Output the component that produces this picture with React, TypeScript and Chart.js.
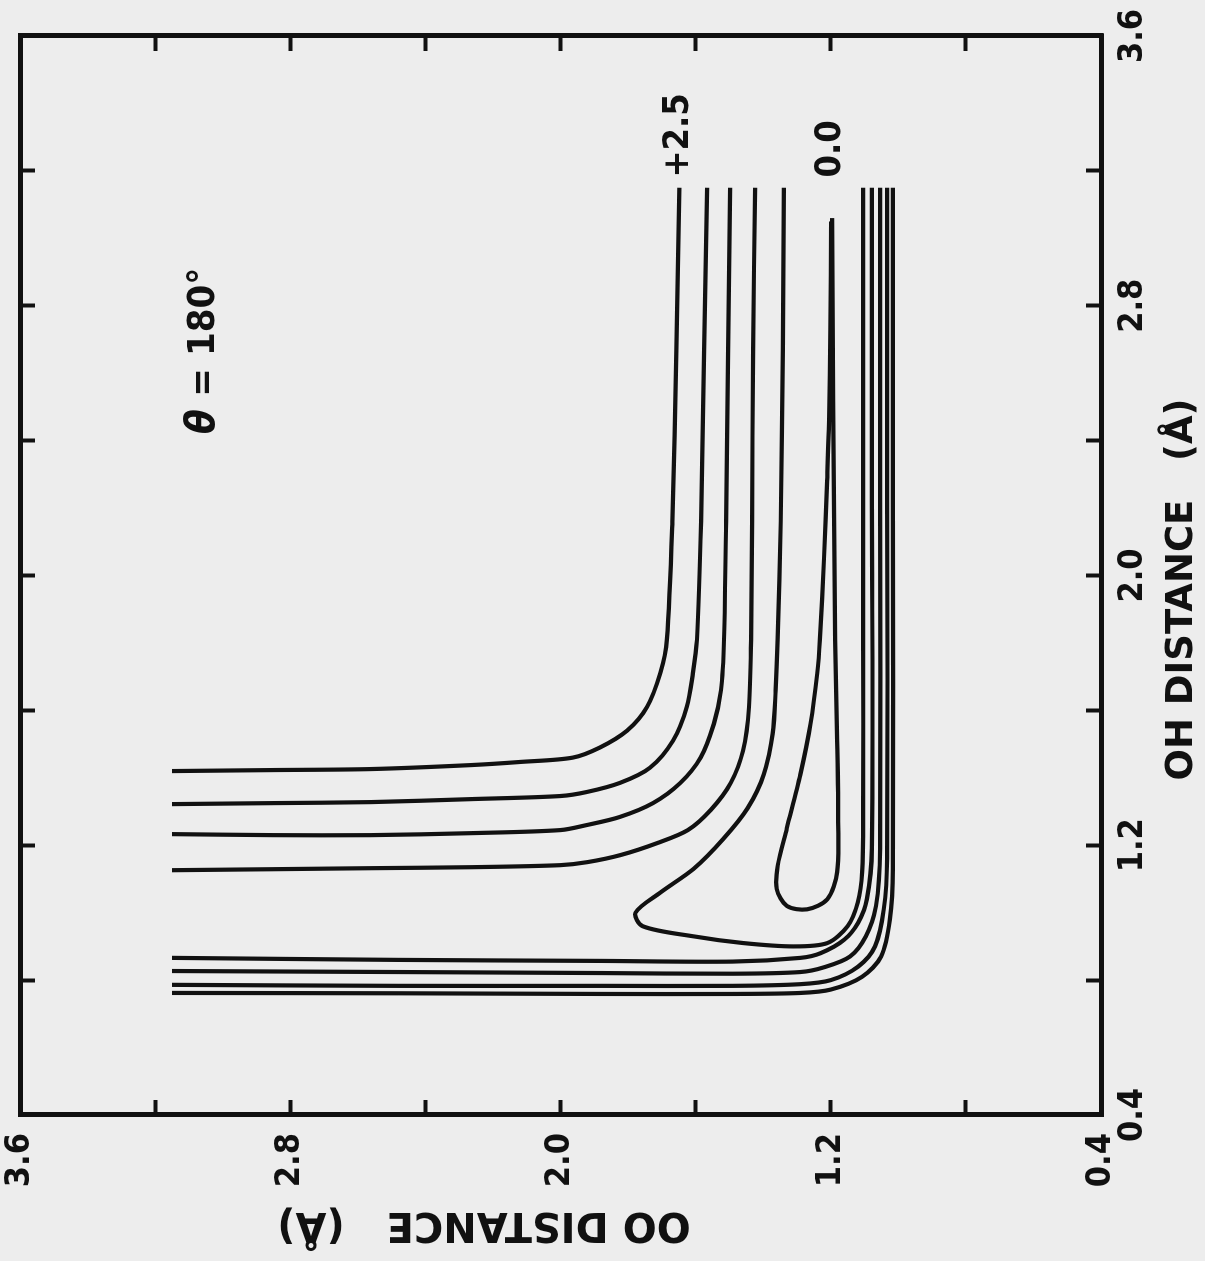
import React, { useEffect, useRef } from 'react';
import { Chart, registerables } from 'chart.js';

Chart.register(...registerables);

// Axis (Angstrom)
const axisMin = 0.4;
const axisMax = 3.6;
const tickValues = [0.4, 0.8, 1.2, 1.6, 2.0, 2.4, 2.8, 3.2, 3.6];
const labelledTicks = [0.4, 1.2, 2.0, 2.8, 3.6];
const xTitle = 'OH DISTANCE   (Å)';
const yTitle = 'OO DISTANCE   (Å)';
const angleLabel = '= 180°';
const angleSymbol = 'θ';
const levelLabels = ['+2.5', '0.0'];

// Contours: [OH distance, OO distance]
const contourA: [number, number][] = [
  [3.15, 1.648], [2.67, 1.657], [2.16, 1.669], [1.81, 1.685], [1.71, 1.705], [1.61, 1.744],
  [1.54, 1.803], [1.49, 1.883], [1.46, 1.963], [1.447, 2.12], [1.438, 2.26], [1.426, 2.56],
  [1.423, 2.85], [1.42, 3.15],
];
const contourB: [number, number][] = [
  [3.15, 1.566], [2.67, 1.575], [2.16, 1.584], [1.81, 1.596], [1.71, 1.608], [1.61, 1.626],
  [1.51, 1.667], [1.43, 1.735], [1.385, 1.824], [1.358, 1.922], [1.346, 2.00], [1.337, 2.26],
  [1.328, 2.56], [1.325, 2.85], [1.322, 3.15],
];
const contourC: [number, number][] = [
  [3.15, 1.498], [2.67, 1.504], [2.16, 1.51], [1.81, 1.516], [1.66, 1.525], [1.56, 1.546],
  [1.46, 1.585], [1.385, 1.645], [1.325, 1.726], [1.284, 1.824], [1.26, 1.922], [1.245, 2.00],
  [1.236, 2.26], [1.23, 2.56], [1.23, 2.85], [1.233, 3.15],
];
const contourD: [number, number][] = [
  [3.15, 1.424], [2.67, 1.43], [2.16, 1.433], [1.81, 1.436], [1.61, 1.442], [1.48, 1.46],
  [1.385, 1.496], [1.305, 1.555], [1.245, 1.623], [1.207, 1.712], [1.171, 1.822], [1.15, 1.92],
  [1.141, 2.00], [1.135, 2.26], [1.132, 2.56], [1.129, 2.85], [1.126, 3.15],
];
const contourE: [number, number][] = [
  [3.15, 1.339], [2.67, 1.342], [2.16, 1.348], [1.81, 1.357], [1.66, 1.363], [1.53, 1.372],
  [1.41, 1.398], [1.31, 1.446], [1.22, 1.517], [1.13, 1.606], [1.06, 1.704], [1.00, 1.778],
  [0.96, 1.757], [0.93, 1.607], [0.91, 1.46], [0.90, 1.31], [0.91, 1.21], [0.96, 1.15],
  [1.03, 1.12], [1.12, 1.107], [1.31, 1.104], [1.81, 1.104], [2.52, 1.104], [3.15, 1.104],
];
const contourZero: [number, number][] = [
  [3.06, 1.196], [2.52, 1.193], [2.16, 1.19], [1.81, 1.187], [1.51, 1.181], [1.27, 1.178],
  [1.12, 1.181], [1.04, 1.21], [1.01, 1.27], [1.02, 1.33], [1.07, 1.36], [1.14, 1.357],
  [1.25, 1.33], [1.41, 1.29], [1.56, 1.26], [1.71, 1.24], [1.81, 1.232], [2.05, 1.22],
  [2.28, 1.211], [2.46, 1.205], [2.73, 1.201], [3.05, 1.199],
];
const contourF: [number, number][] = [
  [3.15, 1.078], [2.22, 1.078], [1.19, 1.078], [1.04, 1.093], [0.97, 1.119], [0.92, 1.16],
  [0.88, 1.23], [0.866, 1.29], [0.855, 1.49], [0.857, 1.88], [0.86, 2.48], [0.866, 3.15],
];
const contourG: [number, number][] = [
  [3.15, 1.054], [2.22, 1.054], [1.19, 1.054], [1.02, 1.066], [0.93, 1.096], [0.87, 1.143],
  [0.838, 1.22], [0.824, 1.29], [0.819, 1.49], [0.821, 1.88], [0.824, 2.48], [0.827, 3.15],
];
const contourH: [number, number][] = [
  [3.15, 1.033], [2.22, 1.033], [1.16, 1.033], [1.01, 1.043], [0.90, 1.069], [0.84, 1.119],
  [0.80, 1.20], [0.788, 1.29], [0.783, 1.49], [0.783, 1.88], [0.783, 2.48], [0.786, 3.15],
];
const contourI: [number, number][] = [
  [3.15, 1.016], [2.22, 1.016], [1.13, 1.016], [0.98, 1.025], [0.87, 1.051], [0.81, 1.107],
  [0.772, 1.20], [0.762, 1.29], [0.759, 1.49], [0.759, 1.88], [0.761, 2.48], [0.762, 3.15],
];

const contours = [contourA, contourB, contourC, contourD, contourE, contourZero, contourF, contourG, contourH, contourI];

// Label anchors (data coords): [OH, OO]
const levelLabelPos: [number, number][] = [[3.18, 1.65], [3.18, 1.20]];
const angleLabelPos: [number, number] = [2.42, 3.055];

const INK = '#111111';
const PAPER = '#ededed';
const COND = '"DejaVu Sans Condensed", "Liberation Sans Narrow", "DejaVu Sans", sans-serif';

const textPlugin = {
  id: 'annotTexts',
  afterDraw(chart: any) {
    const { ctx, chartArea } = chart;
    const xs = chart.scales.x;
    const ys = chart.scales.y;
    ctx.save();
    ctx.fillStyle = INK;
    // x-axis title
    ctx.font = 'bold 37px "DejaVu Sans", sans-serif';
    ctx.textAlign = 'center';
    ctx.textBaseline = 'alphabetic';
    ctx.fillText(xTitle, (chartArea.left + chartArea.right) / 2 - 14, 1192);
    // y-axis title
    ctx.save();
    ctx.translate(48, 484);
    ctx.rotate(-Math.PI / 2);
    ctx.font = 'bold 40px "DejaVu Sans", sans-serif';
    ctx.fillText(yTitle, 0, 0);
    ctx.restore();
    // contour level labels
    ctx.font = 'bold 36px ' + COND;
    ctx.textAlign = 'left';
    ctx.textBaseline = 'middle';
    levelLabels.forEach((t, i) => {
      const [ox, oy] = levelLabelPos[i];
      ctx.fillText(t, xs.getPixelForValue(ox), ys.getPixelForValue(oy));
    });
    // angle label
    const ax = xs.getPixelForValue(angleLabelPos[0]);
    const ay = ys.getPixelForValue(angleLabelPos[1]);
    ctx.font = 'italic bold 40px ' + COND;
    ctx.fillText(angleSymbol, ax, ay);
    const w = ctx.measureText(angleSymbol + ' ').width;
    ctx.font = 'bold 38px ' + COND;
    ctx.fillText(angleLabel, ax + w, ay);
    ctx.restore();
  },
};

function makeAxis(position: string, showLabels: boolean, pad: number, size: number) {
  const horizontal = position === 'top' || position === 'bottom';
  return {
    type: 'linear',
    position,
    min: axisMin,
    max: axisMax,
    afterBuildTicks: (scale: any) => {
      scale.ticks = tickValues.map((v) => ({ value: v }));
    },
    afterFit: (s: any) => {
      if (horizontal) s.height = size; else s.width = size;
      s.paddingLeft = 0;
      s.paddingRight = 0;
      s.paddingTop = 0;
      s.paddingBottom = 0;
    },
    ticks: {
      display: showLabels,
      autoSkip: false,
      maxRotation: 0,
      padding: pad,
      color: INK,
      font: { family: COND, size: 34, weight: 'bold' },
      callback: (value: number) =>
        labelledTicks.some((v) => Math.abs(v - value) < 1e-6) ? Number(value).toFixed(1) : '',
    },
    grid: {
      drawOnChartArea: false,
      drawTicks: true,
      tickLength: -15,
      tickWidth: 4,
      tickColor: INK,
    },
    border: { display: true, width: 5, color: INK },
  };
}

export default function App() {
  const ref = useRef<HTMLCanvasElement>(null);
  useEffect(() => {
    if (!ref.current) return;
    const datasets = contours.map((c, i) => ({
      label: 'contour ' + (i + 1),
      data: c.map(([oh, oo]) => ({ x: oh, y: oo })),
      showLine: true,
      borderColor: INK,
      borderWidth: 4.2,
      pointRadius: 0,
      tension: 0.3,
      fill: false,
    }));
    const chart = new Chart(ref.current, {
      type: 'scatter',
      data: { datasets },
      options: {
        responsive: false,
        animation: false,
        devicePixelRatio: 1,
        layout: { padding: { left: 0, right: 36, top: 20, bottom: 0 } },
        plugins: { legend: { display: false }, tooltip: { enabled: false } },
        scales: {
          x: makeAxis('bottom', true, 27, 104),
          y: makeAxis('left', true, 33, 146),
          x2: makeAxis('top', false, 0, 0),
          y2: makeAxis('right', false, 0, 0),
        },
      } as any,
      plugins: [textPlugin],
    });
    return () => chart.destroy();
  }, []);
  return (
    <div
      style={{
        position: 'fixed', left: 0, top: 0, width: 1205, height: 1261,
        overflow: 'hidden', background: PAPER,
      }}
    >
      <canvas
        ref={ref}
        width={1261}
        height={1205}
        style={{
          position: 'absolute', left: 0, top: 0, width: 1261, height: 1205,
          transformOrigin: '0 0', transform: 'translateY(1261px) rotate(-90deg)',
        }}
      />
    </div>
  );
}
